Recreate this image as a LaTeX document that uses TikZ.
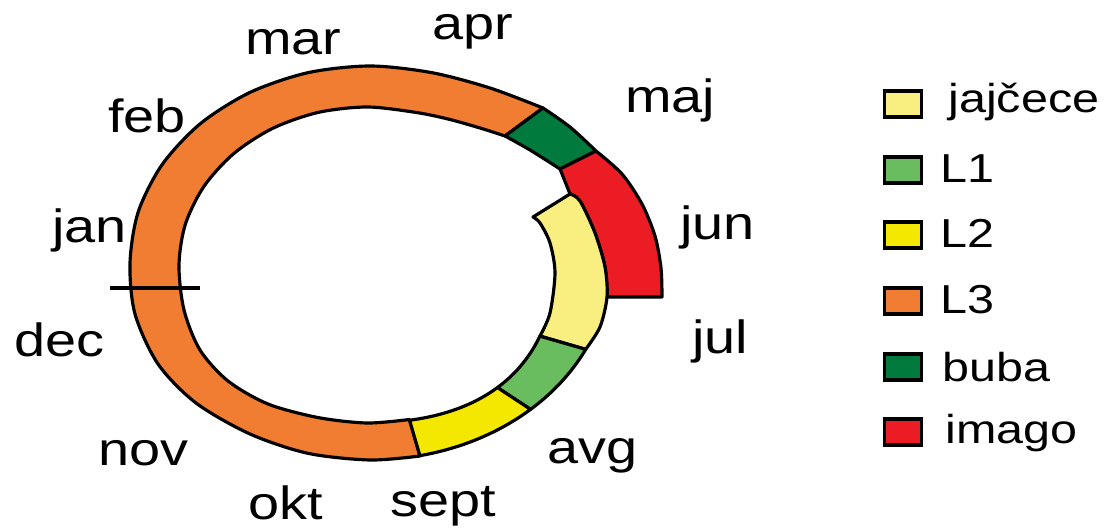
\documentclass[tikz,border=0pt]{standalone}
\usepackage{fontspec}
\setmainfont{Liberation Sans}[FakeStretch=1.2]

\definecolor{egg}{RGB}{248,239,128}
\definecolor{lone}{RGB}{106,189,95}
\definecolor{ltwo}{RGB}{245,232,0}
\definecolor{lthree}{RGB}{241,125,50}
\definecolor{pupa}{RGB}{0,122,61}
\definecolor{adult}{RGB}{236,28,36}

\newcommand{\monthfont}{\fontsize{26.5}{30}\selectfont}
\newcommand{\keyfont}{\fontsize{23}{27}\selectfont}

\begin{document}
\begin{tikzpicture}[x=0.02cm, y=-0.02cm,
  declare function={bi(\t)=7*sin(2*\t)^2;},
  seg/.style={draw=black, line width=1.8pt, line join=round},
  month/.style={font=\monthfont, anchor=base west, inner sep=0pt},
  key/.style={draw=black, line width=2.2pt, minimum width=0.74cm, minimum height=0.52cm, inner sep=0pt},
  keytext/.style={font=\keyfont, anchor=base west, inner sep=0pt}]

\useasboundingbox (0,0) rectangle (1109,530);

% L3 -- the long orange part of the ring
\filldraw[seg, fill=lthree]
  plot[smooth] coordinates {(543,108) (490,88) (432,72.7) (370,66) (307.9,72.7) (250,92.4) (200.3,123.7) (162.2,164.5) (138.2,212) (130,263) (135,314) (158,364) (196,403) (250,434) (307.9,453.3) (370,460) (420,456)}
  -- plot[smooth] coordinates {(409.5,419.5) (367,423) (318.3,417.6) (268,404) (228,381) (200,350) (184,310) (179,265) (185.4,224.1) (204.2,186) (234.1,153.3) (273,128.2) (318.3,112.4) (367,107) (415.7,112.4) (448,119) (480,128) (505,136)}
  -- cycle;

% buba
\filldraw[seg, fill=pupa]
  (505,136) -- plot[smooth] coordinates {(543,108) (570,127) (596,151)}
  -- plot[smooth] coordinates {(560,169) (530,150) (505,136)} -- cycle;

% imago, sticks out of the ring
\filldraw[seg, fill=adult]
  (560,169) -- plot[smooth] coordinates {(596,151) (622,174) (642,204) (655,236) (661,268) (662,297)}
  -- (607,297) -- plot[smooth] coordinates {(607,297) (605,267) (595,233) (580,201) (570,194)} -- cycle;

% jajcece
\filldraw[seg, fill=egg]
  (533,217) -- plot[smooth] coordinates {(570,194) (580,201) (595,233) (605,267) (607,297) (600,327) (585.7,349.3)}
  -- plot[smooth] coordinates {(540,336) (550,313) (555,273) (550,243) (540,223) (533,217)} -- cycle;

% L1
\filldraw[seg, fill=lone]
  plot[domain=334:312, samples=15] ({370+240*cos(\x)}, {263-197*sin(\x)})
  -- plot[domain=312:334, samples=15] ({367+(188+bi(\x))*cos(\x)}, {265-(158+bi(\x))*sin(\x)})
  -- cycle;

% L2
\filldraw[seg, fill=ltwo]
  plot[domain=312:282, samples=20] ({370+240*cos(\x)}, {263-197*sin(\x)})
  -- plot[domain=283:312, samples=20] ({367+(188+bi(\x))*cos(\x)}, {265-(158+bi(\x))*sin(\x)})
  -- cycle;

% new year mark
\coordinate (yearL) at (110,288);
\coordinate (yearR) at (200,288);
\draw[line width=2.2pt] (yearL) -- (yearR);

% months
\node[month] (mar) at (245,55) {mar};
\node[month] (apr) at (432,40) {apr};
\node[month] (maj) at (625,113) {maj};
\node[month] (feb) at (108,133) {feb};
\node[month] (jan) at (52,243) {jan};
\node[month] (jun) at (680,240) {jun};
\node[month] (dec) at (14,357) {dec};
\node[month] (jul) at (692,353) {jul};
\node[month] (nov) at (98,465) {nov};
\node[month] (avg) at (547,463) {avg};
\node[month] (okt) at (248,519) {okt};
\node[month] (sept) at (390,516) {sept};

% legend
\node[key, fill=egg] (kegg) at (903,104) {};
\node[key, fill=lone] (kone) at (903,170) {};
\node[key, fill=ltwo] (ktwo) at (903,235) {};
\node[key, fill=lthree] (kthree) at (903,301) {};
\node[key, fill=pupa] (kpupa) at (903,367) {};
\node[key, fill=adult] (kadult) at (903,432) {};

\node[keytext] (tegg) at (948,113) {jajčece};
\node[keytext] (tone) at (940,183) {L1};
\node[keytext] (ttwo) at (940,248) {L2};
\node[keytext] (tthree) at (940,314) {L3};
\node[keytext] (tpupa) at (942,381) {buba};
\node[keytext] (tadult) at (945,443) {imago};

\end{tikzpicture}
\end{document}
